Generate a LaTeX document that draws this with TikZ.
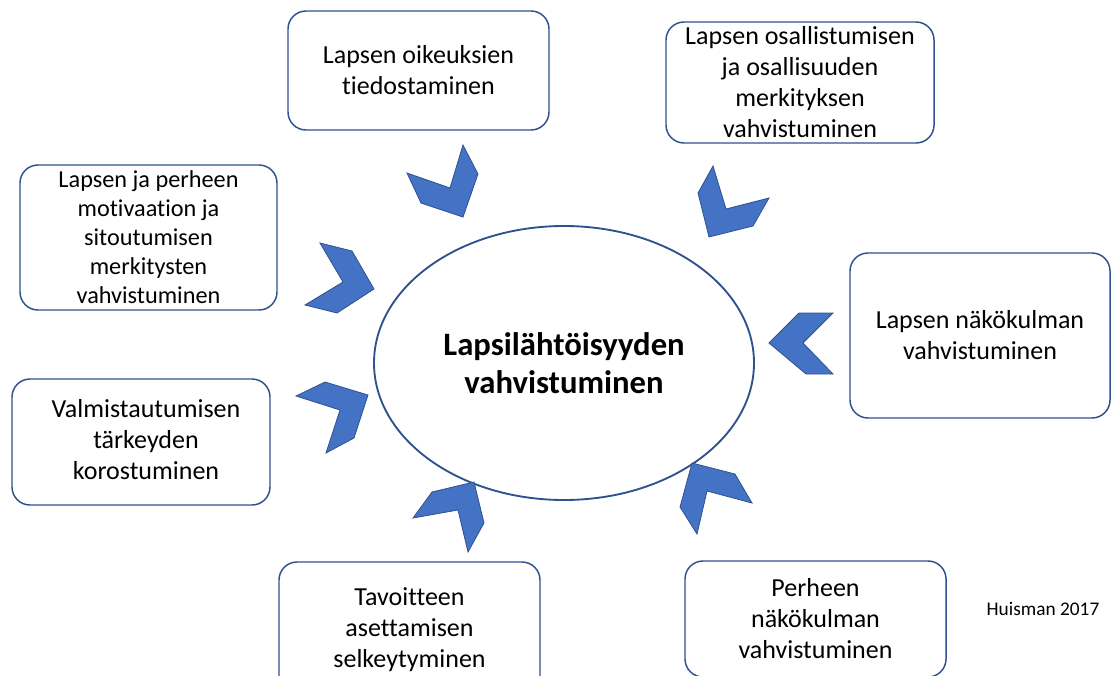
\documentclass[tikz,border=0pt]{standalone}
\usepackage{fontspec}
\setmainfont[Ligatures=NoCommon]{Carlito}
\usepackage{tikz}
\usetikzlibrary{shapes.geometric}
\definecolor{reuna}{HTML}{2F528F}
\definecolor{nuoli}{HTML}{4472C4}
\tikzset{
	laatikko/.style={draw=reuna, line width=1.1pt, rounded corners=13.5pt, fill=white,
		align=center, inner sep=0pt, font=\fontsize{19.5}{23.25}\selectfont},
	kulma/.style={fill=nuoli, draw=reuna, line width=0.6pt},
}

\begin{document}
\begin{tikzpicture}[x=0.75pt,y=-0.75pt]
	\useasboundingbox (0,0) rectangle (1112,675);
	\clip (0,0) rectangle (1112,675);
	%% keskus
	\node[ellipse, draw=reuna, line width=1.4pt, inner sep=0pt, minimum width=285pt, minimum height=205.5pt,
		align=center, font=\bfseries\fontsize{24.5}{28.5}\selectfont] (lapsi) at (564,363)
		{Lapsilähtöisyyden\\vahvistuminen};
	%% laatikot
	\node[laatikko, minimum width=195.75pt, minimum height=89.25pt] (oikeudet) at (418.5,70.5)
		{Lapsen oikeuksien\\tiedostaminen};
	\node[laatikko, minimum width=201pt, minimum height=90.75pt] (osallisuus) at (800,82.5)
		{Lapsen osallistumisen\\ja osallisuuden\\merkityksen\\vahvistuminen};
	\node[laatikko, minimum width=192.75pt, minimum height=108.75pt,
		font=\fontsize{18.2}{21.75}\selectfont] (motivaatio) at (148.5,237.5)
		{Lapsen ja perheen\\motivaation ja\\sitoutumisen\\merkitysten\\vahvistuminen};
	\node[laatikko, minimum width=195pt, minimum height=123.75pt] (nakokulma) at (980,335.5)
		{Lapsen näkökulman\\vahvistuminen};
	\node[laatikko, minimum width=193.5pt, minimum height=94.5pt] (valmistautuminen) at (141,442)
		{\hspace*{7.5pt}\begin{tabular}{@{}c@{}}Valmistautumisen\\tärkeyden\\korostuminen\end{tabular}};
	\node[laatikko, minimum width=195.75pt, minimum height=102pt] (tavoite) at (409.5,630)
		{Tavoitteen\\asettamisen\\selkeytyminen};
	\node[laatikko, minimum width=195.75pt, minimum height=87pt] (perhe) at (815.5,619)
		{Perheen\\näkökulman\\vahvistuminen};
	\node[font=\fontsize{14.5}{17}\selectfont] (lahde) at (1043,609) {Huisman 2017};
	%% nuolet kohti keskusta
	\filldraw[kulma] (407,173) -- (450,188) -- (463,145) -- (478,174) -- (463,217) -- (421,203) -- cycle;
	\filldraw[kulma] (713,166) -- (726,209) -- (769,198) -- (753,226) -- (709,237) -- (698,193) -- cycle;
	\filldraw[kulma] (320,243) -- (352,251) -- (374,289) -- (337,313) -- (305,305) -- (343,282) -- cycle;
	\filldraw[kulma] (799,313) -- (833,313) -- (803,343) -- (833,374) -- (806,374) -- (769,343) -- cycle;
	\filldraw[kulma] (296,396) -- (325,382) -- (368,395) -- (354,438) -- (326,453) -- (340,410) -- cycle;
	\filldraw[kulma] (413,518) -- (432,492) -- (474,482) -- (484,523) -- (468,552) -- (458,510) -- cycle;
	\filldraw[kulma] (692,463) -- (735,474) -- (752,503) -- (707,491) -- (697,534) -- (680,507) -- cycle;
\end{tikzpicture}
\end{document}
